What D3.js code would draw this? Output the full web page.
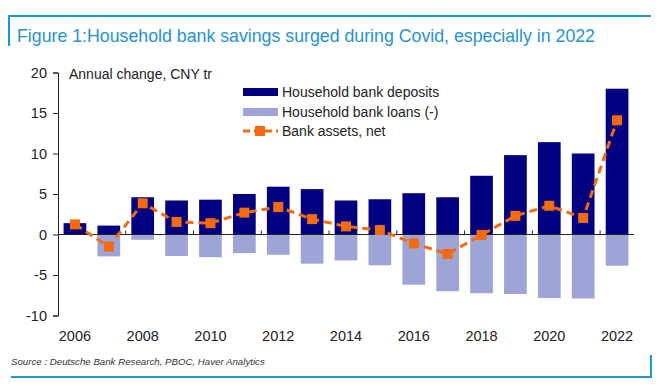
<!DOCTYPE html>
<html>
<head>
<meta charset="utf-8">
<script src="https://cdn.jsdelivr.net/npm/d3@7"></script>
<style>
  body { margin: 0; background: #fff; }
  svg { font-family: "Liberation Sans", Arial, sans-serif; }
</style>
</head>
<body>
<svg width="660" height="388"></svg>
<script>
var years = d3.range(2006, 2023);
var deposits = [1.4, 1.1, 4.6, 4.2, 4.3, 5.0, 5.9, 5.6, 4.2, 4.35, 5.1, 4.6, 7.25, 9.8, 11.4, 10.0, 18.0];
var loans = [0, -2.7, -0.65, -2.65, -2.8, -2.3, -2.5, -3.6, -3.2, -3.8, -6.2, -7.0, -7.25, -7.35, -7.85, -7.9, -3.85];
var net = [1.25, -1.5, 3.85, 1.55, 1.4, 2.7, 3.4, 1.9, 1.0, 0.55, -1.1, -2.4, -0.05, 2.3, 3.55, 2.05, 14.1];
var yTicks = [-10, -5, 0, 5, 10, 15, 20];
var xLabels = [2006, 2008, 2010, 2012, 2014, 2016, 2018, 2020, 2022];

var svg = d3.select("svg");
var frame = "#1f93d2";

// title frame
svg.append("path")
  .attr("d", "M9,46 V16 H651")
  .attr("fill", "none").attr("stroke", frame).attr("stroke-width", 2);
svg.append("text")
  .attr("x", 17).attr("y", 42)
  .attr("font-size", 18.5)
  .attr("fill", "#1f93d2")
  .attr("textLength", 578).attr("lengthAdjust", "spacingAndGlyphs")
  .text("Figure 1:Household bank savings surged during Covid, especially in 2022");

var x = d3.scaleBand().domain(years).range([58, 634]).paddingInner(0.33).paddingOuter(0.165);
var y = d3.scaleLinear().domain([-10, 20]).range([315.5, 72.5]);

var g = svg.append("g");

g.selectAll("rect.dep").data(years).enter().append("rect")
  .attr("class", "dep")
  .attr("x", function(d) { return x(d); })
  .attr("width", x.bandwidth())
  .attr("y", function(d, i) { return y(deposits[i]); })
  .attr("height", function(d, i) { return y(0) - y(deposits[i]); })
  .attr("fill", "#000080");

g.selectAll("rect.loan").data(years).enter().append("rect")
  .attr("class", "loan")
  .attr("x", function(d) { return x(d); })
  .attr("width", x.bandwidth())
  .attr("y", y(0))
  .attr("height", function(d, i) { return y(loans[i]) - y(0); })
  .attr("fill", "#9ea4d6");

// y axis
var yAxis = d3.axisLeft(y).tickValues(yTicks).tickSize(5).tickPadding(6)
  .tickFormat(function(d) { return String(d); });
var ya = svg.append("g").attr("transform", "translate(58,0)").call(yAxis);
ya.select(".domain").attr("stroke", "#222");
ya.selectAll(".tick line").attr("stroke", "#222");
ya.selectAll("text").attr("font-size", 14.5).attr("fill", "#222").attr("font-family", "Liberation Sans, Arial, sans-serif");

// zero line with ticks
svg.append("line")
  .attr("x1", 58).attr("x2", 634).attr("y1", y(0)).attr("y2", y(0))
  .attr("stroke", "#222");
var step = x.step();
svg.selectAll("line.xt").data(xLabels.slice(1)).enter().append("line")
  .attr("class", "xt")
  .attr("x1", function(d) { return x(d) - (step - x.bandwidth()) / 2; })
  .attr("x2", function(d) { return x(d) - (step - x.bandwidth()) / 2; })
  .attr("y1", y(0)).attr("y2", y(0) - 4)
  .attr("stroke", "#222");

svg.selectAll("text.xl").data(xLabels).enter().append("text")
  .attr("class", "xl")
  .attr("x", function(d) { return x(d) + x.bandwidth() / 2; })
  .attr("y", 341)
  .attr("text-anchor", "middle")
  .attr("font-size", 14.5).attr("fill", "#222")
  .text(function(d) { return d; });

// net line
var line = d3.line()
  .x(function(d, i) { return x(years[i]) + x.bandwidth() / 2; })
  .y(function(d) { return y(d); });
svg.append("path").datum(net)
  .attr("d", line)
  .attr("fill", "none")
  .attr("stroke", "#f56a0f")
  .attr("stroke-width", 3)
  .attr("stroke-dasharray", "8,5");
svg.selectAll("rect.mk").data(net).enter().append("rect")
  .attr("class", "mk")
  .attr("x", function(d, i) { return x(years[i]) + x.bandwidth() / 2 - 5; })
  .attr("y", function(d) { return y(d) - 5; })
  .attr("width", 10).attr("height", 10)
  .attr("fill", "#f56a0f");

svg.append("text")
  .attr("x", 69).attr("y", 79)
  .attr("font-size", 14).attr("fill", "#222")
  .text("Annual change, CNY tr");

// legend
var leg = svg.append("g");
leg.append("rect").attr("x", 243).attr("y", 88).attr("width", 35).attr("height", 8).attr("fill", "#000080");
leg.append("rect").attr("x", 243).attr("y", 108).attr("width", 35).attr("height", 8).attr("fill", "#9ea4d6");
leg.append("line").attr("x1", 243).attr("x2", 278).attr("y1", 131).attr("y2", 131)
  .attr("stroke", "#f56a0f").attr("stroke-width", 3).attr("stroke-dasharray", "7,4");
leg.append("rect").attr("x", 255).attr("y", 126).attr("width", 10).attr("height", 10).attr("fill", "#f56a0f");
var legText = ["Household bank deposits", "Household bank loans (-)", "Bank assets, net"];
leg.selectAll("text").data(legText).enter().append("text")
  .attr("x", 282).attr("y", function(d, i) { return 97 + i * 19.5; })
  .attr("font-size", 14).attr("fill", "#222")
  .text(function(d) { return d; });

// source
svg.append("text")
  .attr("x", 11).attr("y", 365)
  .attr("font-size", 9.7).attr("font-style", "italic").attr("fill", "#333")
  .text("Source : Deutsche Bank Research, PBOC, Haver Analytics");

svg.append("path")
  .attr("d", "M11,377 H651 V355")
  .attr("fill", "none").attr("stroke", "#1f9ac8").attr("stroke-width", 2);
</script>
</body>
</html>
